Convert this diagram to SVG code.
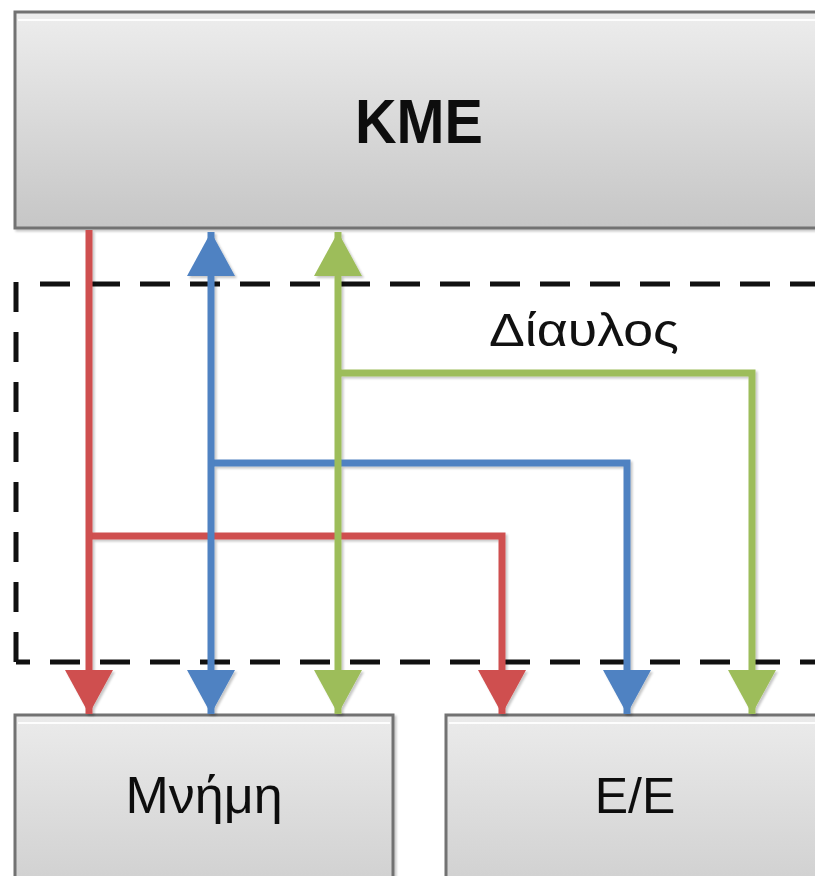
<svg xmlns="http://www.w3.org/2000/svg" width="815" height="876" viewBox="0 0 815 876">
  <defs>
    <linearGradient id="boxFill" x1="0" y1="0" x2="0" y2="1">
      <stop offset="0" stop-color="#ededed"/>
      <stop offset="1" stop-color="#c6c6c6"/>
    </linearGradient>
    <linearGradient id="lowFill" x1="0" y1="0" x2="0" y2="1">
      <stop offset="0" stop-color="#ebebeb"/>
      <stop offset="1" stop-color="#cfcfcf"/>
    </linearGradient>
    <filter id="soft" x="-5%" y="-5%" width="110%" height="110%">
      <feDropShadow dx="2" dy="2" stdDeviation="1.2" flood-color="#000" flood-opacity="0.22"/>
    </filter>
    <marker id="headRed" viewBox="0 0 44 48" refX="44" refY="24" markerWidth="44" markerHeight="48" markerUnits="userSpaceOnUse" orient="auto">
      <path d="M0 0 L44 24 L0 48 Z" fill="#cf4f4f"/>
    </marker>
    <marker id="headBlue" viewBox="0 0 44 48" refX="44" refY="24" markerWidth="44" markerHeight="48" markerUnits="userSpaceOnUse" orient="auto">
      <path d="M0 0 L44 24 L0 48 Z" fill="#4f82c2"/>
    </marker>
    <marker id="headGreen" viewBox="0 0 44 48" refX="44" refY="24" markerWidth="44" markerHeight="48" markerUnits="userSpaceOnUse" orient="auto">
      <path d="M0 0 L44 24 L0 48 Z" fill="#9dbd5a"/>
    </marker>
    <marker id="tailBlue" viewBox="0 0 44 48" refX="0" refY="24" markerWidth="44" markerHeight="48" markerUnits="userSpaceOnUse" orient="auto">
      <path d="M44 0 L0 24 L44 48 Z" fill="#4f82c2"/>
    </marker>
    <marker id="tailGreen" viewBox="0 0 44 48" refX="0" refY="24" markerWidth="44" markerHeight="48" markerUnits="userSpaceOnUse" orient="auto">
      <path d="M44 0 L0 24 L44 48 Z" fill="#9dbd5a"/>
    </marker>
  </defs>
  <style>
    .box { stroke: #727272; stroke-width: 3; }
    .shine { fill: none; stroke: #ffffff; stroke-width: 2; opacity: 0.9; }
    .label { font-family: "Liberation Sans", Arial, sans-serif; fill: #111111; text-anchor: middle; }
    .bus { fill: none; stroke: #111111; stroke-width: 5; stroke-dasharray: 30 20; }
    .wire { fill: none; stroke-width: 7; stroke-linejoin: miter; }
    .red { stroke: #cf4f4f; }
    .blue { stroke: #4f82c2; }
    .green { stroke: #9dbd5a; }
  </style>

  <rect width="815" height="876" fill="#ffffff"/>

  <!-- processing unit -->
  <g id="kme" filter="url(#soft)">
    <rect class="box" x="15" y="12" width="820" height="216" fill="url(#boxFill)"/>
    <line class="shine" x1="18" y1="20" x2="815" y2="20"/>
    <text class="label" x="419" y="143" font-size="63" font-weight="bold" textLength="128" lengthAdjust="spacingAndGlyphs">KME</text>
  </g>

  <!-- bus boundary -->
  <g id="bus">
    <path class="bus" d="M16 662 V280"/>
    <path class="bus" d="M16 662 H815" stroke-dashoffset="16"/>
    <path class="bus" d="M40 284 H815"/>
    <text class="label" x="584" y="346" font-size="47" textLength="190" lengthAdjust="spacingAndGlyphs">Δίαυλος</text>
  </g>

  <!-- memory -->
  <g id="memory" filter="url(#soft)">
    <rect class="box" x="15" y="715" width="378" height="180" fill="url(#lowFill)"/>
    <line class="shine" x1="18" y1="723" x2="390" y2="723"/>
    <text class="label" x="204" y="813" font-size="52">Μνήμη</text>
  </g>

  <!-- input / output -->
  <g id="io" filter="url(#soft)">
    <rect class="box" x="446" y="715" width="400" height="180" fill="url(#lowFill)"/>
    <line class="shine" x1="449" y1="723" x2="815" y2="723"/>
    <text class="label" x="635" y="813" font-size="50">Ε/Ε</text>
  </g>

  <!-- connectors -->
  <g id="connectors" filter="url(#soft)">
    <path class="wire green" d="M338 373 H752 V714" marker-end="url(#headGreen)"/>
    <path class="wire blue" d="M211 463 H627 V714" marker-end="url(#headBlue)"/>
    <path class="wire red" d="M89 536 H502 V714" marker-end="url(#headRed)"/>
    <path class="wire red" d="M89 230 V714" marker-end="url(#headRed)"/>
    <path class="wire blue" d="M211 232 V714" marker-start="url(#tailBlue)" marker-end="url(#headBlue)"/>
    <path class="wire green" d="M338 232 V714" marker-start="url(#tailGreen)" marker-end="url(#headGreen)"/>
  </g>
</svg>
